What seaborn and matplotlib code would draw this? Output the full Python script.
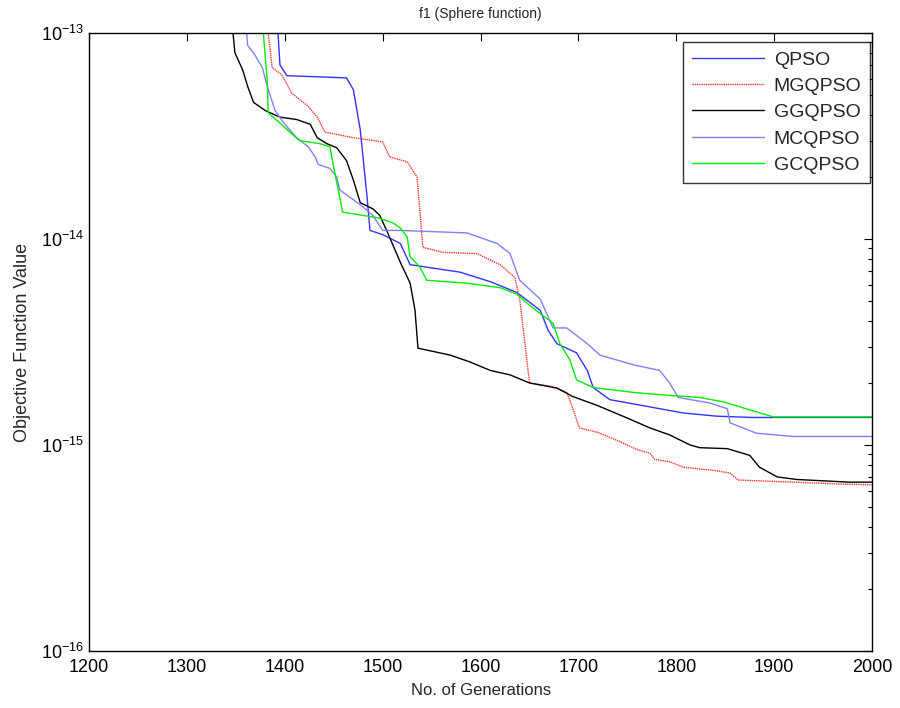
import numpy as np
import pandas as pd
import matplotlib
matplotlib.use("Agg")
import matplotlib.pyplot as plt
import seaborn as sns

# values in units of 1e-15
qpso_x = [1393, 1395, 1402, 1463, 1470, 1477, 1484, 1487, 1500, 1518, 1528, 1579, 1610, 1637,
          1661, 1669, 1678, 1698, 1709, 1715, 1732, 1773, 1807, 1841, 1878, 2000]
qpso_y = [100, 70, 62, 60.5, 53, 34, 16, 11, 10.5, 9.5, 7.5, 6.9, 6.2, 5.5,
          4.5, 3.6, 3.1, 2.8, 2.3, 1.9, 1.66, 1.53, 1.43, 1.38, 1.36, 1.36]

mgqpso_x = [1383, 1387, 1397, 1407, 1424, 1433, 1441, 1470, 1500, 1507, 1525, 1535, 1537, 1541,
            1562, 1596, 1620, 1635, 1640, 1650, 1671, 1688, 1691, 1701, 1720, 1740, 1760, 1773,
            1778, 1793, 1807, 1841, 1855, 1863, 1919, 1974, 2000]
mgqpso_y = [100, 68, 62.5, 51, 44, 39, 33, 31, 29.6, 25, 23.7, 20, 15.5, 9.1,
            8.6, 8.5, 7.5, 6.5, 5.1, 2.0, 1.93, 1.8, 1.66, 1.21, 1.15, 1.05, 0.95, 0.91,
            0.85, 0.83, 0.78, 0.75, 0.73, 0.676, 0.66, 0.645, 0.64]

ggqpso_x = [1347, 1349, 1357, 1362, 1368, 1380, 1395, 1412, 1426, 1433, 1443, 1453, 1463, 1470,
            1477, 1490, 1497, 1504, 1518, 1528, 1533, 1536, 1569, 1589, 1610, 1630, 1650, 1678,
            1694, 1720, 1750, 1773, 1793, 1814, 1824, 1852, 1875, 1885, 1903, 1923, 1977, 2000]
ggqpso_y = [100, 80, 66, 55, 46, 42, 39, 38, 36, 31, 29, 27.7, 24, 19.3,
            15, 14, 13, 11, 7.7, 6.1, 4.5, 2.95, 2.73, 2.53, 2.3, 2.19, 2.0, 1.89,
            1.72, 1.55, 1.35, 1.21, 1.12, 1.0, 0.97, 0.96, 0.89, 0.78, 0.70, 0.68, 0.66, 0.66]

mcqpso_x = [1361, 1362, 1368, 1377, 1382, 1390, 1398, 1412, 1424, 1431, 1434, 1446, 1453, 1456,
            1470, 1480, 1490, 1500, 1518, 1586, 1617, 1630, 1640, 1661, 1674, 1688, 1709, 1722,
            1756, 1783, 1793, 1802, 1834, 1852, 1855, 1868, 1882, 1919, 2000]
mcqpso_y = [100, 87, 80, 68, 55, 42, 37, 31, 28, 25, 23, 22, 20, 17.3,
            15.5, 14.3, 13, 11, 11, 10.7, 9.5, 8.5, 6.3, 5.1, 3.7, 3.7, 3.1, 2.73,
            2.45, 2.3, 2.0, 1.7, 1.6, 1.5, 1.28, 1.21, 1.14, 1.1, 1.1]

gcqpso_x = [1378, 1382, 1383, 1395, 1405, 1415, 1436, 1446, 1449, 1456, 1459, 1480, 1494, 1510,
            1518, 1525, 1528, 1538, 1545, 1586, 1620, 1637, 1647, 1658, 1674, 1681, 1691, 1698,
            1715, 1756, 1773, 1793, 1824, 1848, 1875, 1899, 2000]
gcqpso_y = [100, 59, 41, 36.5, 33, 30, 29, 28, 23.5, 16, 13.5, 13, 12.7, 12,
            11.3, 10.2, 8.2, 7.3, 6.3, 6.1, 5.8, 5.4, 4.9, 4.45, 3.9, 3.1, 2.6, 2.07,
            1.9, 1.8, 1.77, 1.74, 1.7, 1.62, 1.48, 1.37, 1.37]

y_ticks = [1e-16, 1e-15, 1e-14, 1e-13]
y_ticklabels = [r"$10^{-16}$", r"$10^{-15}$", r"$10^{-14}$", r"$10^{-13}$"]
x_ticks = [1200, 1300, 1400, 1500, 1600, 1700, 1800, 1900, 2000]

series = [
    ("QPSO", qpso_x, qpso_y, "#3333ff", "-"),
    ("MGQPSO", mgqpso_x, mgqpso_y, "#ff3333", (0, (1, 0.6))),
    ("GGQPSO", ggqpso_x, ggqpso_y, "black", "-"),
    ("MCQPSO", mcqpso_x, mcqpso_y, "#8080ff", "-"),
    ("GCQPSO", gcqpso_x, gcqpso_y, "#00ee00", "-"),
]

sns.set_style("white")
plt.rcParams["font.family"] = ["Liberation Sans", "DejaVu Sans"]
plt.rcParams["mathtext.fontset"] = "custom"
plt.rcParams["mathtext.rm"] = "Liberation Sans"

fig = plt.figure(figsize=(9, 7.08), dpi=100)
ax = fig.add_axes([0.099, 0.0805, 0.87, 0.873])

for name, xs, ys, col, ls in series:
    df = pd.DataFrame({"gen": xs, "val": np.array(ys) * 1e-15})
    sns.lineplot(data=df, x="gen", y="val", ax=ax, color=col, linestyle=ls,
                 linewidth=1.0, label=name, estimator=None, sort=False)

ax.set_yscale("log")
ax.set_xlim(1200, 2000)
ax.set_ylim(1e-16, 1e-13)
ax.set_xticks(x_ticks)
ax.set_xticklabels([str(v) for v in x_ticks])
ax.set_yticks(y_ticks)
ax.set_yticklabels(y_ticklabels)
ax.set_yticks([m * d for d in [1e-16, 1e-15, 1e-14] for m in range(2, 10)], minor=True)

ax.tick_params(axis="both", which="both", direction="in", top=True, right=True,
               labelsize=13, colors="black")
ax.tick_params(axis="x", pad=6)
ax.tick_params(which="major", length=6, width=0.8)
ax.tick_params(which="minor", length=3, width=0.8)
for sp in ax.spines.values():
    sp.set_color("black")
    sp.set_linewidth(1.0)

ax.set_title("f1 (Sphere function)", fontsize=10, pad=11)
ax.set_xlabel("No. of Generations", fontsize=12, labelpad=5)
ax.set_ylabel("Objective Function Value", fontsize=13, labelpad=7)

leg = ax.legend(loc="upper right", fontsize=14, handlelength=3.7, frameon=True,
                fancybox=False, edgecolor="black", borderpad=0.45, labelspacing=0.45,
                handletextpad=0.5, borderaxespad=0, bbox_to_anchor=(0.9975, 0.985))
leg.get_frame().set_linewidth(1.0)

fig.savefig("out.png", dpi=100)
